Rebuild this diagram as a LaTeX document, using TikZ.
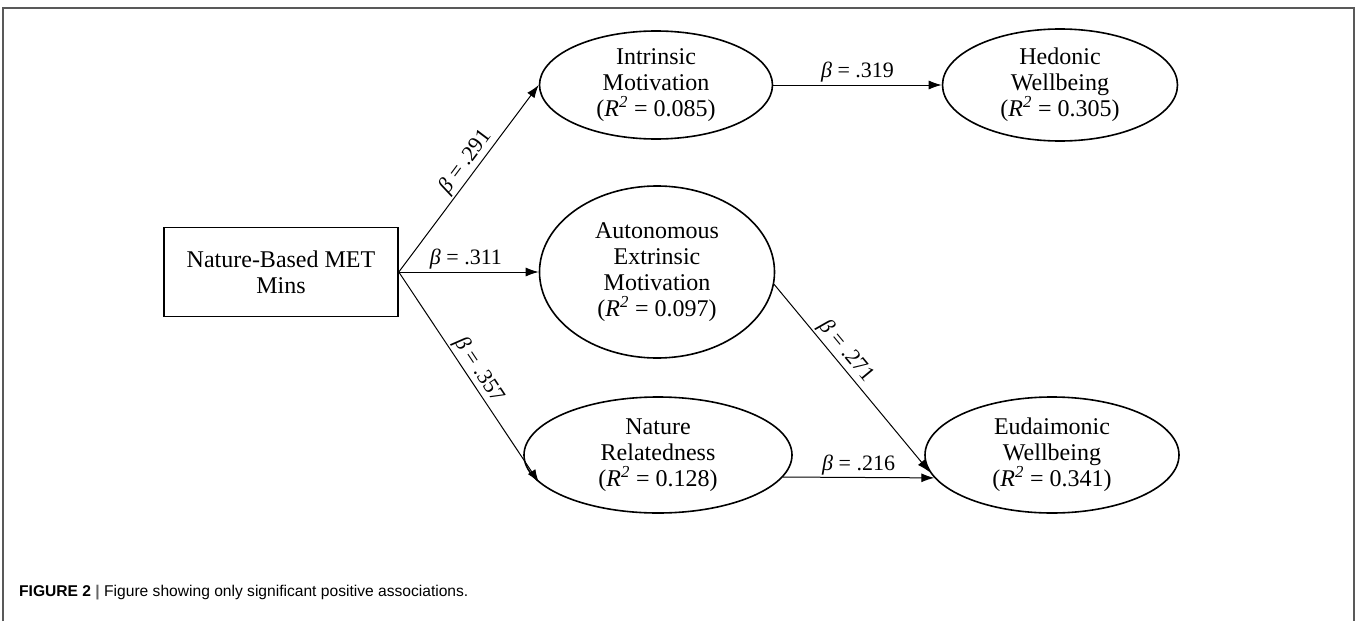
\documentclass[tikz,border=0pt]{standalone}
\usepackage{fontspec}
\setmainfont{Liberation Serif}
\newfontfamily\capfont{Liberation Sans}
\usetikzlibrary{shapes.geometric,arrows.meta}

\begin{document}
\begin{tikzpicture}[x = 1pt, y = -1pt, > = {Latex[length = 13pt, width = 9pt]}]

	% Styles

	\tikzset{
		latent/.style = {draw, line width = 1.6pt, ellipse, align = center, inner sep = 0pt, font = \fontsize{24}{26}\selectfont},
		manifest/.style = {draw, line width = 1.6pt, rectangle, align = center, inner sep = 0pt, font = \fontsize{24}{26}\selectfont},
		path/.style = {->, line width = 1pt},
		coef/.style = {font = \fontsize{22}{24}\selectfont, inner sep = 2pt}
	}

	\def\Rsq#1{(\textit{R\textsuperscript{2}} = #1)}
	\def\B{\textit{β}}

	% Canvas and frame

	\useasboundingbox (0, 0) rectangle (1357, 621);
	\draw [line width = 2pt, black!65] (3, 621) -- (3, 8) -- (1354, 8) -- (1354, 621);

	% Observed variable

	\node [manifest, minimum width = 234pt, minimum height = 89pt] (met) at (281, 272) {Nature-Based MET\\Mins};

	% Mediators

	\node [latent, minimum width = 233pt, minimum height = 108pt] (intr) at (656, 85) {Intrinsic\\Motivation\\\Rsq{0.085}};
	\node [latent, minimum width = 235pt, minimum height = 172pt] (auto) at (657, 272) {Autonomous\\Extrinsic\\Motivation\\\Rsq{0.097}};
	\node [latent, minimum width = 268pt, minimum height = 116pt] (natrel) at (658, 455) {Nature\\Relatedness\\\Rsq{0.128}};

	% Outcomes

	\node [latent, minimum width = 235pt, minimum height = 112pt] (hed) at (1060, 85) {Hedonic\\Wellbeing\\\Rsq{0.305}};
	\node [latent, minimum width = 254pt, minimum height = 116pt] (eud) at (1052, 455) {Eudaimonic\\Wellbeing\\\Rsq{0.341}};

	% Paths from MET minutes

	\draw [path] (met.east) -- node [coef, sloped, above, pos = 0.55] {\B{} = .291} (intr.west);
	\draw [path] (met.east) -- node [coef, above, pos = 0.48] {\B{} = .311} (auto.west);
	\draw [path] (met.east) -- node [coef, sloped, above, pos = 0.5] {\B{} = .357} (natrel.193);

	% Paths to wellbeing

	\draw [path] (intr.east) -- node [coef, above] {\B{} = .319} (hed.west);
	\draw [path] (auto.-6) -- node [coef, sloped, above, pos = 0.4] {\B{} = .271} (eud.188);
	\draw [path] (natrel.-10.6) -- node [coef, above] {\B{} = .216} (eud.191.2);

	% Caption

	\node [anchor = base west, inner sep = 0pt, font = \capfont\fontsize{15.6}{17}\selectfont] (caption) at (19, 596)
		{\textbf{FIGURE 2} {\color{black!60}\textbf{|}} Figure showing only significant positive associations.};

\end{tikzpicture}
\end{document}
